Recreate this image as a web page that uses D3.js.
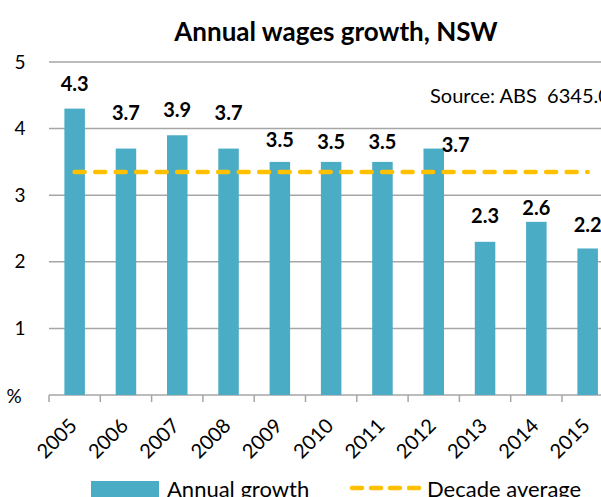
<!DOCTYPE html>
<html><head><meta charset="utf-8">
<script src="https://cdn.jsdelivr.net/npm/d3@7"></script>
<style>body{margin:0;background:#fff}svg{display:block;font-family:Lato,"Open Sans",sans-serif}</style>
</head><body>
<svg id="c" width="601" height="497"></svg>
<script>
const years = ["2005","2006","2007","2008","2009","2010","2011","2012","2013","2014","2015"];
const growth = [4.3,3.7,3.9,3.7,3.5,3.5,3.5,3.7,2.3,2.6,2.2];
const decadeAvg = [3.35,3.35,3.35,3.35,3.35,3.35,3.35,3.35,3.35,3.35,3.35];
const yTicks = [0,1,2,3,4,5];

// label nudges (layout only): pixel offsets of each value label from its bar top
const labelDx = [0,0,0,0,0,0,0,22,0,0,0];
const labelDy = [-18,-28.6,-18.6,-28.6,-15,-13,-13,3.4,-19,-7,-16.5];

const svg = d3.select("#c");
const left = 49, bandW = 51.3;
const x = d3.scaleBand().domain(years).range([left, left + bandW*years.length]).paddingInner(0.6).paddingOuter(0.3);
const y = d3.scaleLinear().domain([0,5]).range([395,62]);
const xc = d => x(d) + x.bandwidth()/2;

// gridlines
svg.append("g").selectAll("line").data(yTicks).join("line")
  .attr("x1", left).attr("x2", 601).attr("y1", d=>y(d)).attr("y2", d=>y(d))
  .attr("stroke", "#a6a6a6").attr("stroke-width", 1.5);

// y labels
svg.append("g").selectAll("text").data(yTicks.filter(d=>d>0)).join("text")
  .attr("x", 20).attr("y", d=>y(d)+6.5).attr("text-anchor","middle")
  .attr("font-size", 19).attr("fill","#000").text(d=>d);
svg.append("text").attr("x", 14).attr("y", y(0)+8).attr("text-anchor","middle")
  .attr("font-size", 19).text("%");

// x tick marks at band boundaries
const bounds = years.map((d,i)=> left + i*bandW);
svg.append("g").selectAll("line").data(bounds).join("line")
  .attr("x1", d=>d).attr("x2", d=>d).attr("y1", y(0)).attr("y2", y(0)+7)
  .attr("stroke","#a6a6a6").attr("stroke-width",1.5);

// bars
svg.append("g").selectAll("rect").data(years).join("rect")
  .attr("x", d=>x(d)).attr("width", x.bandwidth())
  .attr("y", (d,i)=>y(growth[i])).attr("height", (d,i)=>y(0)-y(growth[i]))
  .attr("fill", "#4bacc6");

// decade average line
const line = d3.line().x((d,i)=>xc(years[i])).y(d=>y(d));
svg.append("path").datum(decadeAvg).attr("d", line)
  .attr("fill","none").attr("stroke","#ffc000").attr("stroke-width",4.5)
  .attr("stroke-linecap","round").attr("stroke-dasharray","10,10.5");

// value labels
svg.append("g").selectAll("text").data(years).join("text")
  .attr("x", (d,i)=>xc(d)+labelDx[i]).attr("y", (d,i)=>y(growth[i])+labelDy[i])
  .attr("text-anchor","middle").attr("font-size",20).attr("font-weight","bold")
  .text((d,i)=>growth[i].toFixed(1));

// x labels
svg.append("g").selectAll("text").data(years).join("text")
  .attr("transform", d=>`translate(${xc(d)+3.5},${y(0)+32}) rotate(-45)`)
  .attr("text-anchor","end").attr("font-size",20).text(d=>d);

// title
svg.append("text").attr("x", 336).attr("y", 41).attr("text-anchor","middle")
  .attr("font-size", 26).attr("font-weight","bold").text("Annual wages growth, NSW");

// source
svg.append("text").attr("x", 430).attr("y", 103).attr("font-size", 20).text("Source: ABS  6345.0").attr("xml:space","preserve").style("white-space","pre");

// legend
svg.append("rect").attr("x", 91).attr("y", 481).attr("width", 68).attr("height", 16).attr("fill","#4bacc6");
svg.append("text").attr("x", 167).attr("y", 497).attr("font-size", 22).text("Annual growth");
svg.append("line").attr("x1", 352).attr("x2", 419).attr("y1", 488).attr("y2", 488)
  .attr("stroke","#ffc000").attr("stroke-width",4.5).attr("stroke-linecap","round").attr("stroke-dasharray","10,9");
svg.append("text").attr("x", 427).attr("y", 497).attr("font-size", 22).text("Decade average");
</script>
</body></html>
